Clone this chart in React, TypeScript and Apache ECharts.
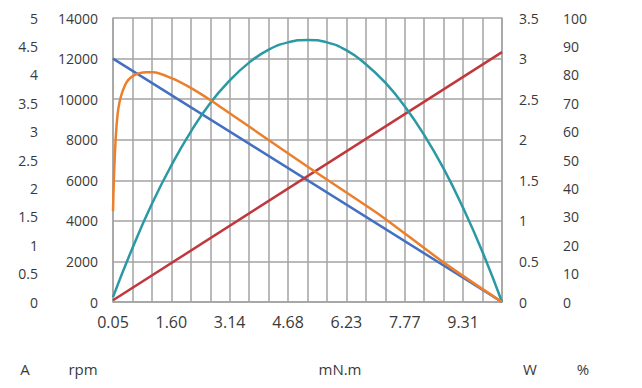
import React, { useEffect, useRef } from "react";
import * as echarts from "echarts";

// Torque positions of the vertical grid lines (mN.m)
const torqueGrid = [
  "0.05", "0.56", "1.08", "1.60", "2.11", "2.62", "3.14", "3.65", "4.17", "4.68",
  "5.20", "5.71", "6.23", "6.74", "7.26", "7.77", "8.28", "8.80", "9.31", "9.83", "10.34",
];

// Speed (rpm)
const speedData: [number, number][] = [
  [0.05, 12000],
  [10.34, 0],
];

// Current (A)
const currentData: [number, number][] = [
  [0.05, 0.03],
  [10.34, 4.4],
];

// Output power (W)
const powerData: [number, number][] = [
  [0.05, 0.06], [0.56, 0.66], [1.08, 1.21], [1.6, 1.69], [2.11, 2.1], [2.62, 2.45],
  [3.14, 2.73], [3.65, 2.95], [4.17, 3.11], [4.68, 3.2], [5.2, 3.23], [5.71, 3.2],
  [6.23, 3.1], [6.74, 2.93], [7.26, 2.7], [7.77, 2.41], [8.28, 2.06], [8.8, 1.64],
  [9.31, 1.16], [9.83, 0.61], [10.34, 0],
];

// Efficiency (%)
const efficiencyData: [number, number][] = [
  [0.05, 32], [0.1, 52], [0.19, 68], [0.37, 76.4], [0.59, 79.7], [0.94, 80.9],
  [1.11, 80.9], [1.6, 78.8], [2.13, 75.2], [2.66, 70.8], [3.01, 67.6], [3.67, 61.6],
  [5.26, 47.1], [6.85, 33], [7.29, 28.9], [8.83, 13.6], [10.34, 0],
];

const axisNames = [
  { text: "A", x: 25 },
  { text: "rpm", x: 83 },
  { text: "mN.m", x: 340 },
  { text: "W", x: 530 },
  { text: "%", x: 583 },
];

const GRID = "#a3a3a3";
const TXT = "#3a3a3a";
const FONT = "Open Sans";

export default function App() {
  const ref = useRef<HTMLDivElement>(null);
  useEffect(() => {
    if (!ref.current) return;
    const chart = echarts.init(ref.current, undefined, { renderer: "svg" });
    const yLabel = {
      color: TXT,
      fontSize: 14,
      fontFamily: FONT,
      formatter: (v: number) => String(v),
    };
    chart.setOption({
      animation: false,
      backgroundColor: "#ffffff",
      grid: { left: 113, right: 140, top: 18, bottom: 86 },
      xAxis: [
        {
          type: "category",
          data: torqueGrid,
          boundaryGap: false,
          position: "bottom",
          axisLine: { show: true, lineStyle: { color: GRID, width: 1.5 } },
          axisTick: { show: false },
          axisLabel: { interval: 2, margin: 12, color: TXT, fontSize: 16, fontFamily: FONT },
          splitLine: { show: true, interval: 0, lineStyle: { color: GRID, width: 1.5 } },
        },
        {
          type: "value",
          min: 0.05,
          max: 10.34,
          show: false,
          splitLine: { show: false },
        },
      ],
      yAxis: [
        {
          type: "value",
          position: "left",
          min: 0,
          max: 14000,
          interval: 2000,
          axisLine: { show: true, lineStyle: { color: GRID, width: 1.5 } },
          axisTick: { show: false },
          axisLabel: { ...yLabel, margin: 15 },
          splitLine: { show: true, lineStyle: { color: GRID, width: 1.5 } },
        },
        {
          type: "value",
          position: "left",
          offset: 67,
          min: 0,
          max: 5,
          interval: 0.5,
          axisLine: { show: false },
          axisTick: { show: false },
          axisLabel: { ...yLabel, margin: 8 },
          splitLine: { show: false },
        },
        {
          type: "value",
          position: "right",
          min: 0,
          max: 3.5,
          interval: 0.5,
          axisLine: { show: true, lineStyle: { color: GRID, width: 1.5 } },
          axisTick: { show: false },
          axisLabel: { ...yLabel, margin: 17 },
          splitLine: { show: false },
        },
        {
          type: "value",
          position: "right",
          offset: 53,
          min: 0,
          max: 100,
          interval: 10,
          axisLine: { show: false },
          axisTick: { show: false },
          axisLabel: { ...yLabel, margin: 8 },
          splitLine: { show: false },
        },
      ],
      series: [
        {
          name: "rpm",
          type: "line",
          xAxisIndex: 1,
          yAxisIndex: 0,
          data: speedData,
          showSymbol: false,
          lineStyle: { color: "#4370c0", width: 2.5 },
        },
        {
          name: "A",
          type: "line",
          xAxisIndex: 1,
          yAxisIndex: 1,
          data: currentData,
          showSymbol: false,
          lineStyle: { color: "#c0383d", width: 2.5 },
        },
        {
          name: "W",
          type: "line",
          xAxisIndex: 1,
          yAxisIndex: 2,
          data: powerData,
          smooth: true,
          showSymbol: false,
          lineStyle: { color: "#2a99a4", width: 2.5 },
        },
        {
          name: "%",
          type: "line",
          xAxisIndex: 1,
          yAxisIndex: 3,
          data: efficiencyData,
          smooth: 0.3,
          showSymbol: false,
          lineStyle: { color: "#ec7f2c", width: 2.5 },
        },
      ],
      graphic: axisNames.map((n) => ({
        type: "text",
        x: n.x,
        y: 369,
        style: {
          text: n.text,
          fill: TXT,
          fontSize: 15,
          fontFamily: FONT,
          textAlign: "center",
          textVerticalAlign: "middle",
        },
      })),
    });
    return () => chart.dispose();
  }, []);
  return (
    <div
      ref={ref}
      style={{ position: "fixed", left: 0, top: 0, width: 642, height: 388, background: "#fff" }}
    />
  );
}
